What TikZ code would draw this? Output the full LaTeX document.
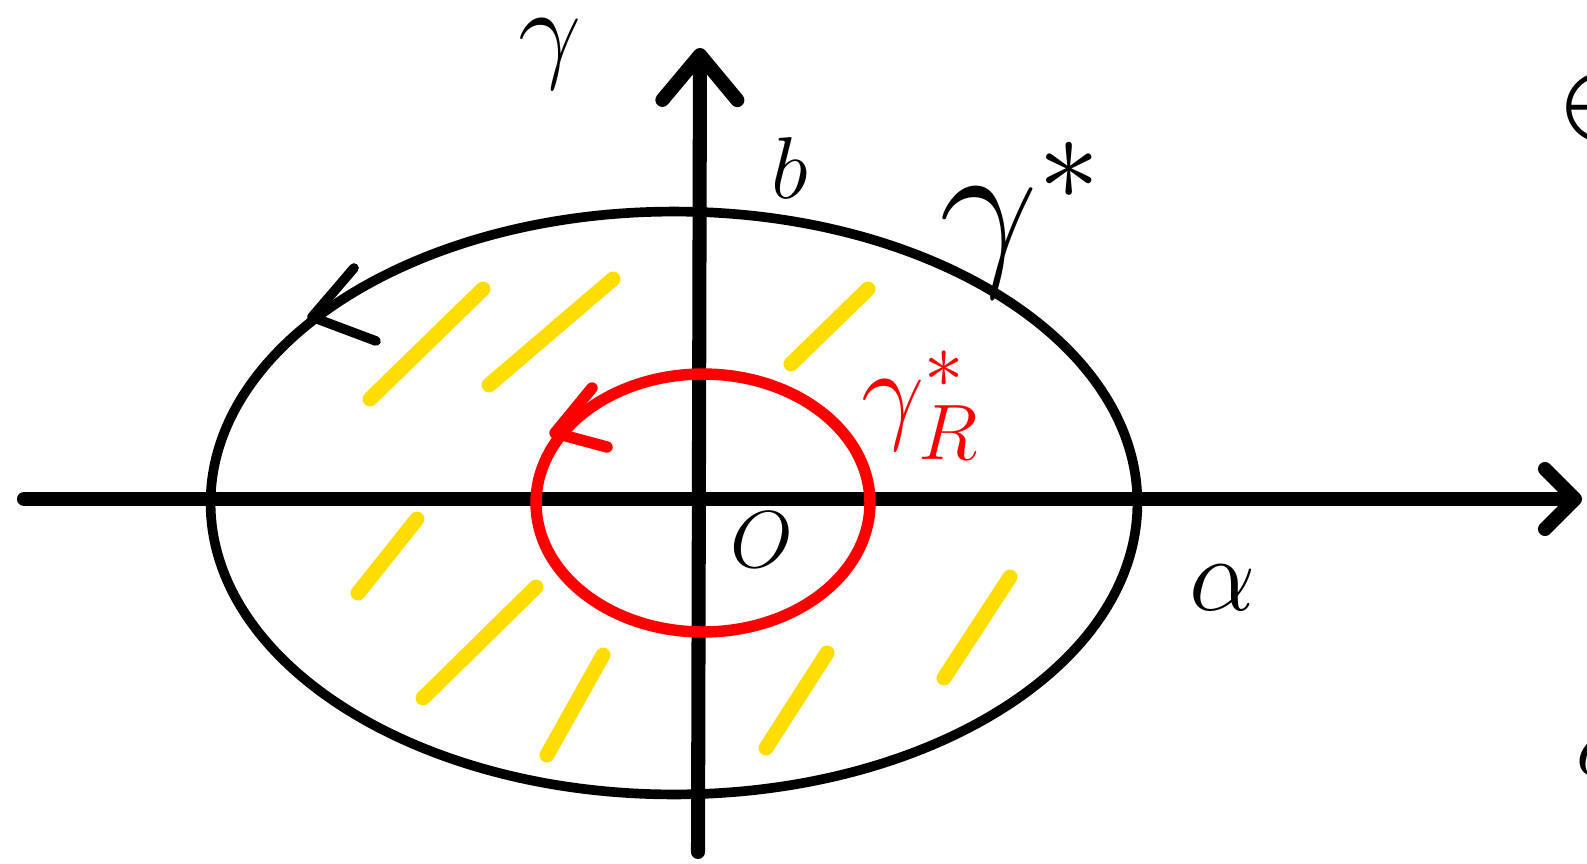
\documentclass[tikz,border=0pt]{standalone}
\usepackage{fix-cm}
\usepackage{amsmath,amssymb}
\usepackage{tikz}
\usetikzlibrary{arrows.meta}
\usepackage{xcolor}
\definecolor{hatchyellow}{RGB}{255,221,0}

\begin{document}
\begin{tikzpicture}[
    x=0.02cm, y=-0.02cm,
    axis/.style={line width=8pt, line cap=round, line join=round},
    curve/.style={line width=5.5pt, line cap=round, line join=round},
    hatch/.style={line width=8.5pt, line cap=round, hatchyellow},
    lbl/.style={inner sep=0pt, font=\fontsize{50}{50}\selectfont}
]
    \useasboundingbox (0,0) rectangle (1587,863);

    % Hatching inside the set
    \foreach \xa/\ya/\xb/\yb in {370/399/483/289, 489/385/613/279, 791/364/868/289,
        358/593/417/519, 423/698/536/587, 547/755/603/655, 766/748/827/653, 944/678/1010/577}
        \draw[hatch] (\xa,\ya) -- (\xb,\yb);

    % Axes
    \coordinate (xl) at (24,499);
    \coordinate (xr) at (1582,499);
    \coordinate (yb) at (698,852);
    \coordinate (yt) at (700,48);
    \draw[axis, -{Straight Barb[round, length=0.6cm, width=1.2cm]}] (xl) -- (xr);
    \draw[axis, -{Straight Barb[round, length=0.9cm, width=1.5cm]}] (yb) -- (yt);

    % Sets
    \draw[curve] (674,503) ellipse [x radius=9.27cm, y radius=5.83cm];
    \draw[curve] (354,268) -- (312,317) -- (376,341);
    \draw[curve, red, line width=6.5pt] (703,503) ellipse [x radius=3.34cm, y radius=2.58cm];
    \draw[curve, red, line width=6.5pt] (592,388) -- (555,433) -- (607,447);

    % Labels
    \node[lbl, font=\fontsize{64}{64}\selectfont] (ylab) at (550,54) {$\gamma$};
    \node[lbl] (blab) at (790,168) {$b$};
    \node[lbl, font=\fontsize{100}{100}\selectfont] (gstar) at (1020,220) {$\gamma^{\ast}$};
    \node[lbl, red, font=\fontsize{64}{64}\selectfont] (gstarR) at (920,405) {$\gamma^{\ast}_{R}$};
    \node[lbl, font=\fontsize{46}{46}\selectfont] (olab) at (762,540) {$O$};
    \node[lbl, font=\fontsize{60}{60}\selectfont] (xlab) at (1223,588) {$\alpha$};
    \node[lbl, font=\fontsize{70}{70}\selectfont, anchor=west] (edgeA) at (1556,108) {$\in$};
    \node[lbl, anchor=west] (edgeB) at (1576,757) {$c$};
\end{tikzpicture}
\end{document}
